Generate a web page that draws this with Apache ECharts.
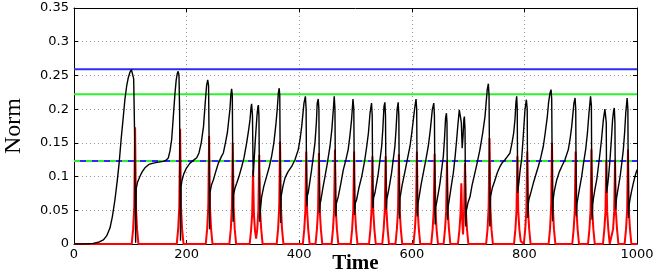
<!DOCTYPE html>
<html>
<head>
<meta charset="utf-8">
<script src="https://cdn.jsdelivr.net/npm/echarts@6/dist/echarts.min.js"></script>
<style>html,body{margin:0;padding:0;background:#fff}#c{width:664px;height:273px}</style>
</head>
<body>
<div id="c"></div>
<script>
// ---- data ----
const xTicks = [0, 200, 400, 600, 800, 1000];
const yTickLabels = ['0', '0.05', '0.1', '0.15', '0.2', '0.25', '0.3', '0.35'];
const blueLevel = 0.259;
const greenLevel = 0.222;
const dashedLevel = 0.123;

const blackCurve = [
[0,0],[20,0],[34,0.001],[45,0.003],[52,0.006],[58,0.012],[64,0.024],[68,0.04],[72.8,0.066],[77,0.095],[80.5,0.123],[84,0.158],[87.6,0.189],[90.5,0.215],[93.5,0.234],[96.5,0.247],[99.5,0.255],[102,0.2585],[104.5,0.258],[106,0.245],[107.5,0.17],[108.5,0.08],[109.5,0.002],
[110.5,0.082],[113,0.092],[117,0.1],[121,0.107],[126,0.113],[133,0.118],[141,0.12],[150,0.1215],[158.6,0.1225],[163,0.124],[167.5,0.1275],[170.5,0.138],[173.5,0.155],[176.5,0.19],[179.4,0.224],[181.5,0.243],[183.5,0.253],[185,0.256],[186.5,0.25],[187.5,0.2],[188.5,0.08],[189.2,0.005],
[190,0.085],[192,0.095],[195,0.104],[200,0.113],[206,0.12],[212,0.124],[218,0.128],[222,0.135],[226,0.15],[230,0.174],[233.5,0.214],[235.5,0.235],[237.5,0.2435],[239,0.235],[240,0.15],[240.8,0.022],
[241.5,0.076],[244,0.087],[247.5,0.095],[252,0.108],[256.4,0.12],[262,0.13],[265.3,0.135],[269,0.15],[272.4,0.165],[277,0.2],[278.7,0.222],[280,0.23],[281.2,0.22],[282,0.12],[282.6,0.033],
[283.3,0.073],[286,0.083],[289,0.09],[293,0.1],[298,0.115],[302,0.128],[306.7,0.15],[310,0.168],[312.6,0.184],[314.5,0.203],[315.5,0.208],[317,0.19],[318.3,0.1],
[320,0.125],[322.5,0.16],[325,0.19],[326.5,0.203],[327.5,0.206],[328.5,0.19],[329.3,0.1],[330,0.033],
[331,0.05],[333.3,0.07],[337,0.085],[342,0.1],[347,0.115],[351,0.13],[355,0.15],[358.8,0.179],[361,0.2],[363,0.224],[364.5,0.231],[365.5,0.22],[366.3,0.12],[367,0.031],
[367.8,0.07],[371,0.085],[374.8,0.098],[380,0.107],[386.6,0.115],[392.5,0.125],[398.4,0.14],[401.5,0.155],[404.4,0.174],[408.5,0.209],[411,0.219],[412.3,0.2],[413,0.1],[413.6,0.056],
[414.5,0.072],[416,0.076],[419,0.093],[422,0.11],[425,0.13],[428,0.15],[430.5,0.18],[432,0.209],[433.8,0.215],[435,0.2],[435.7,0.1],[436.3,0.046],
[437.2,0.06],[438.7,0.066],[442,0.083],[445.8,0.1],[450,0.12],[454.7,0.145],[458,0.17],[460.6,0.199],[462.2,0.219],[463.5,0.2],[464.3,0.1],[465,0.041],
[466,0.06],[469.5,0.0706],[474,0.09],[478.3,0.11],[483,0.125],[487,0.14],[490,0.16],[493,0.184],[495.5,0.215],[497,0.2],[497.8,0.1],[498.5,0.043],
[499.5,0.06],[502,0.066],[506,0.083],[511,0.1],[516,0.122],[520,0.145],[523,0.165],[525.8,0.194],[528.5,0.209],[529.7,0.19],[530.4,0.1],[531,0.053],
[532,0.068],[534.6,0.076],[537.5,0.09],[540.5,0.105],[543.5,0.125],[546.5,0.145],[548.5,0.17],[550.6,0.204],[552.2,0.21],[553.3,0.19],[554,0.1],[554.6,0.051],
[555.5,0.066],[558,0.076],[561,0.09],[564,0.105],[567,0.125],[570,0.145],[572,0.17],[574,0.2],[575.8,0.21],[577,0.19],[577.6,0.1],[578.2,0.038],
[579,0.068],[583,0.088],[588,0.108],[592,0.125],[596.8,0.145],[600,0.165],[602.7,0.184],[605.7,0.205],[607.5,0.215],[608.7,0.2],[609.4,0.1],[610,0.041],
[611,0.06],[613,0.07],[616.5,0.088],[620.4,0.105],[625,0.125],[629.3,0.145],[633,0.17],[636.4,0.199],[639,0.209],[640.2,0.19],[640.9,0.1],[641.5,0.029],
[642.5,0.055],[644,0.061],[647,0.075],[650,0.09],[653,0.11],[656,0.13],[658,0.155],[660,0.187],[661.5,0.194],[662.5,0.18],[663,0.1],[663.6,0.036],
[664.5,0.055],[666.6,0.066],[670,0.085],[673.7,0.105],[677,0.13],[679.7,0.155],[682,0.178],[684.4,0.199],[686.5,0.2017],[688,0.18],[689.5,0.142],[691,0.16],[692.5,0.185],[693.4,0.189],[694.5,0.17],[695.2,0.1],[696,0.026],
[697,0.05],[700,0.062],[703.4,0.07],[707,0.087],[712,0.105],[716,0.12],[721,0.14],[726,0.165],[730,0.189],[734,0.229],[736,0.2377],[737.2,0.22],[738,0.12],[738.7,0.026],
[739.7,0.07],[743,0.083],[747.8,0.095],[752,0.106],[756.7,0.115],[761,0.121],[765.5,0.125],[770,0.13],[774.4,0.135],[778,0.15],[781,0.165],[783.3,0.185],[785,0.21],[786.3,0.219],[787.3,0.2],[788,0.0756],
[790,0.09],[792.5,0.11],[795,0.125],[798,0.16],[801,0.199],[803.5,0.214],[805,0.2],[805.6,0.1],[806.2,0.0386],
[807,0.06],[808,0.066],[812,0.078],[815.8,0.09],[820,0.102],[824.7,0.115],[829,0.128],[833.6,0.145],[837,0.165],[840.7,0.189],[843,0.21],[845.5,0.224],[847.3,0.229],[848.5,0.215],[849.3,0.12],[850,0.0336],
[851,0.065],[853,0.078],[857.4,0.095],[862,0.107],[866.3,0.115],[872,0.125],[878,0.14],[881,0.155],[884,0.174],[888,0.209],[890,0.2165],[891.2,0.2],[891.8,0.1],[892.4,0.041],
[893.3,0.06],[894.6,0.066],[898,0.083],[901.7,0.1],[905,0.12],[908.8,0.14],[912,0.165],[914.7,0.194],[917.5,0.219],[919,0.205],[919.6,0.1],[920.2,0.036],
[921.2,0.058],[922.4,0.066],[925,0.08],[928.4,0.095],[931,0.112],[934.3,0.135],[937,0.155],[940.2,0.184],[943,0.2],[944.4,0.2017],[945.4,0.18],[946,0.0756],
[947.5,0.085],[949.5,0.1],[952,0.125],[954.5,0.155],[956.6,0.184],[958.5,0.198],[959.7,0.2017],[960.8,0.18],[961.4,0.1],[962,0.051],
[963,0.062],[964,0.07],[967,0.085],[970,0.1],[973,0.12],[975.7,0.14],[978,0.165],[980,0.194],[982.5,0.2165],[983.8,0.2],[984.4,0.1],[985,0.0386],
[986,0.058],[987.6,0.066],[990,0.077],[993.4,0.09],[997,0.102],[1000,0.11]
];

const redCurve = [
[0,0],
[102.5,0],[105,0.022],[107,0.055],[108.5,0.173],[110,0.055],[112,0.022],[114.5,0],
[182.5,0],[185,0.022],[187,0.055],[188.5,0.171],[190,0.055],[192,0.022],[194.5,0],
[234,0],[236.5,0.022],[238.5,0.055],[240,0.16],[241.5,0.055],[243.5,0.022],[246,0],
[276,0],[278.5,0.022],[280.5,0.055],[282,0.15],[283.5,0.055],[285.5,0.022],[288,0],
[312,0],[314.5,0.02],[316.5,0.045],[318,0.11],[319.5,0.045],[321.5,0.02],[323.5,0.008],
[325.5,0.022],[327.5,0.05],[329,0.132],[330.5,0.05],[332.5,0.022],[335,0],
[360,0],[362.5,0.022],[364.5,0.055],[366,0.152],[367.5,0.055],[369.5,0.022],[372,0],
[406.5,0],[409,0.022],[411,0.05],[412.5,0.137],[414,0.05],[416,0.022],[418.5,0],
[429,0],[431.5,0.022],[433.5,0.05],[435,0.135],[436.5,0.05],[438.5,0.022],[441,0],
[457.5,0],[460,0.022],[462,0.05],[463.5,0.14],[465,0.05],[467,0.022],[469.5,0],
[491.5,0],[494,0.022],[496,0.05],[497.5,0.137],[499,0.05],[501,0.022],[503.5,0],
[524,0],[526.5,0.022],[528.5,0.05],[530,0.13],[531.5,0.05],[533.5,0.022],[536,0],
[547.5,0],[550,0.022],[552,0.05],[553.5,0.13],[555,0.05],[557,0.022],[559.5,0],
[571,0],[573.5,0.022],[575.5,0.05],[577,0.133],[578.5,0.05],[580.5,0.022],[583,0],
[603,0],[605.5,0.022],[607.5,0.05],[609,0.137],[610.5,0.05],[612.5,0.022],[615,0],
[634.5,0],[637,0.022],[639,0.05],[640.5,0.134],[642,0.05],[644,0.022],[646.5,0],
[656.5,0],[659,0.022],[661,0.048],[662.5,0.1235],[664,0.048],[666,0.022],[668.5,0],
[682,0],[684.5,0.02],[686.5,0.045],[688,0.09],[689.3,0.04],[691,0.014],[692.8,0.045],[694.5,0.12],[696,0.05],[698,0.022],[700.5,0],
[732,0],[734.5,0.022],[736.5,0.055],[738,0.157],[739.5,0.055],[741.5,0.022],[744,0],
[781.5,0],[784,0.022],[786,0.05],[787.5,0.13],[789,0.05],[791,0.022],[793.5,0.004],
[799,0],[801.5,0.022],[803.5,0.05],[805,0.137],[806.5,0.05],[808.5,0.022],[811,0],
[843,0],[845.5,0.022],[847.5,0.055],[849,0.15],[850.5,0.055],[852.5,0.022],[855,0],
[885,0],[887.5,0.022],[889.5,0.05],[891,0.137],[892.5,0.05],[894.5,0.022],[897,0],
[913,0],[915.5,0.022],[917.5,0.05],[919,0.1405],[920.5,0.05],[922.5,0.022],[925,0],
[939.5,0],[942,0.022],[944,0.048],[945.5,0.125],[947,0.048],[949,0.022],[951.5,0],
[955,0],[957.5,0.022],[959.5,0.048],[961,0.125],[962.5,0.048],[964.5,0.022],[967,0],
[978,0],[980.5,0.022],[982.5,0.05],[984,0.14],[985.5,0.05],[987.5,0.022],[990,0],
[1000,0]
];

// ---- chart ----
const chart = echarts.init(document.getElementById('c'), null, {renderer: 'canvas'});
const xMin = xTicks[0], xMax = xTicks[xTicks.length - 1];
const hLine = (v) => [[xMin, v], [xMax, v]];
const gridStyle = {show: true, lineStyle: {color: '#9a9a9a', width: 1, type: [1, 3]}};
const axisLine = {show: true, onZero: false, lineStyle: {color: '#000', width: 1}};
const tickIn = {show: true, inside: true, length: 4, lineStyle: {color: '#000'}};
const labelFont = {color: '#000', fontFamily: 'DejaVu Sans', fontSize: 13};

chart.setOption({
  animation: false,
  backgroundColor: '#fff',
  grid: {left: 74, right: 27, top: 8, bottom: 29, containLabel: false, outerBoundsMode: 'none'},
  xAxis: [
    {type: 'value', min: xMin, max: xMax, interval: 200, axisLine, axisTick: tickIn,
     splitLine: gridStyle,
     axisLabel: Object.assign({margin: 4, formatter: (v) => String(v)}, labelFont),
     name: 'Time', nameLocation: 'middle', nameGap: 9, nameMoveOverlap: false,
     nameTextStyle: {fontFamily: 'Liberation Serif', fontWeight: 'bold', fontSize: 21, color: '#000'}},
    {type: 'value', position: 'top', min: xMin, max: xMax, interval: 200, axisLine,
     axisTick: tickIn, axisLabel: {show: false}, splitLine: {show: false}}
  ],
  yAxis: [
    {type: 'value', min: 0, max: 0.35, interval: 0.05, axisLine, axisTick: tickIn,
     splitLine: gridStyle,
     axisLabel: Object.assign({margin: 5, formatter: (v) => yTickLabels[Math.round(v / 0.05)]}, labelFont),
     name: 'Norm', nameLocation: 'middle', nameGap: 48, nameMoveOverlap: false,
     nameTextStyle: {fontFamily: 'Liberation Serif', fontSize: 24, color: '#000'}},
    {type: 'value', position: 'right', min: 0, max: 0.35, interval: 0.05, axisLine,
     axisTick: tickIn, axisLabel: {show: false}, splitLine: {show: false}}
  ],
  series: [
    {type: 'line', data: hLine(blueLevel), symbol: 'none', lineStyle: {color: '#2d2df2', width: 2}, silent: true},
    {type: 'line', data: hLine(greenLevel), symbol: 'none', lineStyle: {color: '#2ef22e', width: 2}, silent: true},
    {type: 'line', data: hLine(dashedLevel), symbol: 'none', lineStyle: {color: '#2d2df2', width: 2}, silent: true},
    {type: 'line', data: hLine(dashedLevel), symbol: 'none', lineStyle: {color: '#2ef22e', width: 2, type: [6, 6]}, silent: true},
    {type: 'line', data: redCurve, symbol: 'none', lineStyle: {color: '#ff0000', width: 2}, silent: true},
    {type: 'line', data: blackCurve, symbol: 'none', lineStyle: {color: '#000', width: 1.4}, silent: true}
  ]
});
</script>
</body>
</html>
